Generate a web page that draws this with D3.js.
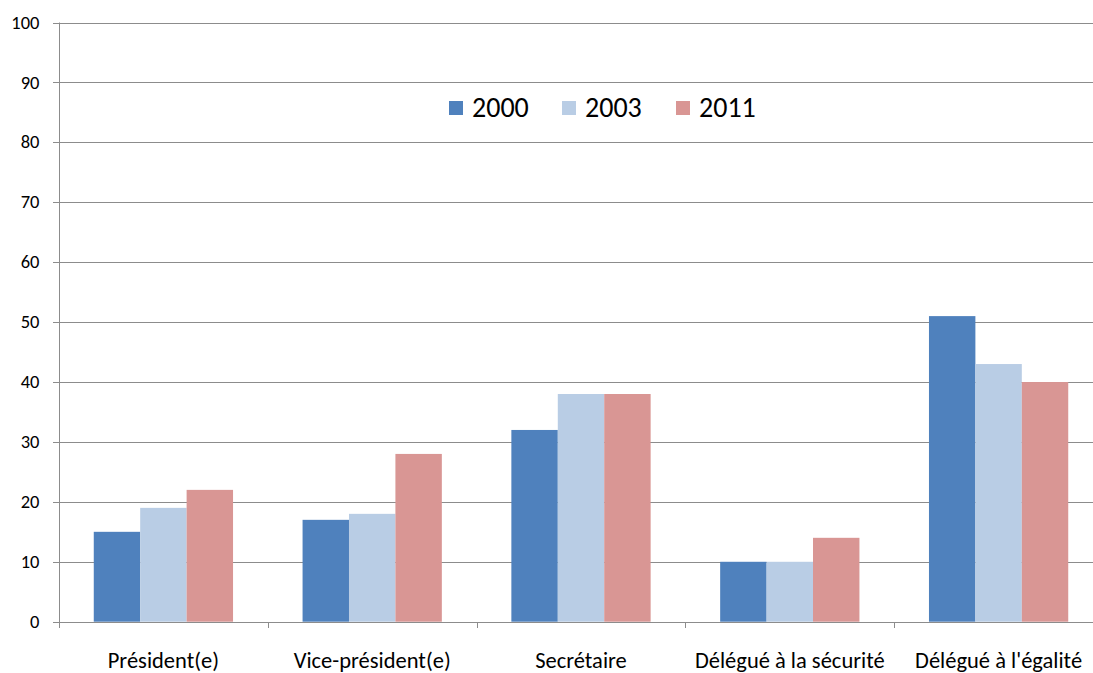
<!DOCTYPE html>
<html>
<head>
<meta charset="utf-8">
<script src="https://cdn.jsdelivr.net/npm/d3@7"></script>
<style>
  body { margin: 0; background: #fff; }
  text { font-family: Carlito, Calibri, Lato, sans-serif; fill: #000; }
</style>
</head>
<body>
<svg id="chart" width="1093" height="673"></svg>
<script>
// Data
const categories = ["Président(e)", "Vice-président(e)", "Secrétaire", "Délégué à la sécurité", "Délégué à l'égalité"];
const years = ["2000", "2003", "2011"];
const values2000 = [15, 17, 32, 10, 51];
const values2003 = [19, 18, 38, 10, 43];
const values2011 = [22, 28, 38, 14, 40];
const yTicks = [0, 10, 20, 30, 40, 50, 60, 70, 80, 90, 100];
const colors = ["#4f81bd", "#b9cde5", "#d99694"];

const series = [values2000, values2003, values2011];

const margin = { top: 22.5, left: 59, bottom: 51.3 };
const plotRight = 1103;
const svg = d3.select("#chart");
const height = 673 - margin.bottom;

const x = d3.scaleBand()
    .domain(categories)
    .range([margin.left, plotRight])
    .paddingInner(0.333)
    .paddingOuter(0.1665);
// ticks between categories use full step
const step = (plotRight - margin.left) / categories.length;

const x1 = d3.scaleBand()
    .domain(years)
    .range([0, x.bandwidth()]);

const y = d3.scaleLinear()
    .domain([0, 100])
    .range([height, margin.top]);

// Gridlines
svg.append("g")
    .selectAll("line")
    .data(yTicks)
    .join("line")
    .attr("x1", margin.left - 6)
    .attr("x2", 1093)
    .attr("y1", d => Math.round(y(d)) + 0.5)
    .attr("y2", d => Math.round(y(d)) + 0.5)
    .attr("stroke", "#8c8c8c")
    .attr("stroke-width", 1);

// Y labels
svg.append("g")
    .selectAll("text")
    .data(yTicks)
    .join("text")
    .attr("x", 39.5)
    .attr("y", d => y(d))
    .attr("dy", "0.33em")
    .attr("text-anchor", "end")
    .attr("font-size", "18.5px")
    .text(d => d);

// Bars
categories.forEach((cat, ci) => {
    svg.append("g")
        .selectAll("rect")
        .data(years)
        .join("rect")
        .attr("x", (d, i) => x(cat) + x1(d))
        .attr("width", x1.bandwidth())
        .attr("y", (d, i) => y(series[i][ci]))
        .attr("height", (d, i) => y(0) - y(series[i][ci]))
        .attr("fill", (d, i) => colors[i]);
});

// Y axis line
svg.append("line")
    .attr("x1", margin.left + 0.5).attr("x2", margin.left + 0.5)
    .attr("y1", margin.top).attr("y2", Math.round(y(0)) + 0.5)
    .attr("stroke", "#8c8c8c");

// X axis ticks
svg.append("g")
    .selectAll("line")
    .data(d3.range(categories.length + 1))
    .join("line")
    .attr("x1", i => Math.round(margin.left + i * step) + 0.5)
    .attr("x2", i => Math.round(margin.left + i * step) + 0.5)
    .attr("y1", Math.round(y(0)))
    .attr("y2", Math.round(y(0)) + 6)
    .attr("stroke", "#8c8c8c");

// X labels
svg.append("g")
    .selectAll("text")
    .data(categories)
    .join("text")
    .attr("x", d => x(d) + x.bandwidth() / 2)
    .attr("y", 667.5)
    .attr("text-anchor", "middle")
    .attr("font-size", "22.5px")
    .text(d => d);

// Legend
const legendX = [449, 562, 676];
const legend = svg.append("g")
    .selectAll("g")
    .data(years)
    .join("g")
    .attr("transform", (d, i) => `translate(${legendX[i]}, 101)`);
legend.append("rect")
    .attr("width", 14).attr("height", 14)
    .attr("fill", (d, i) => colors[i]);
legend.append("text")
    .attr("x", 23)
    .attr("y", 16)
    .attr("font-size", "28px")
    .text(d => d);
</script>
</body>
</html>
